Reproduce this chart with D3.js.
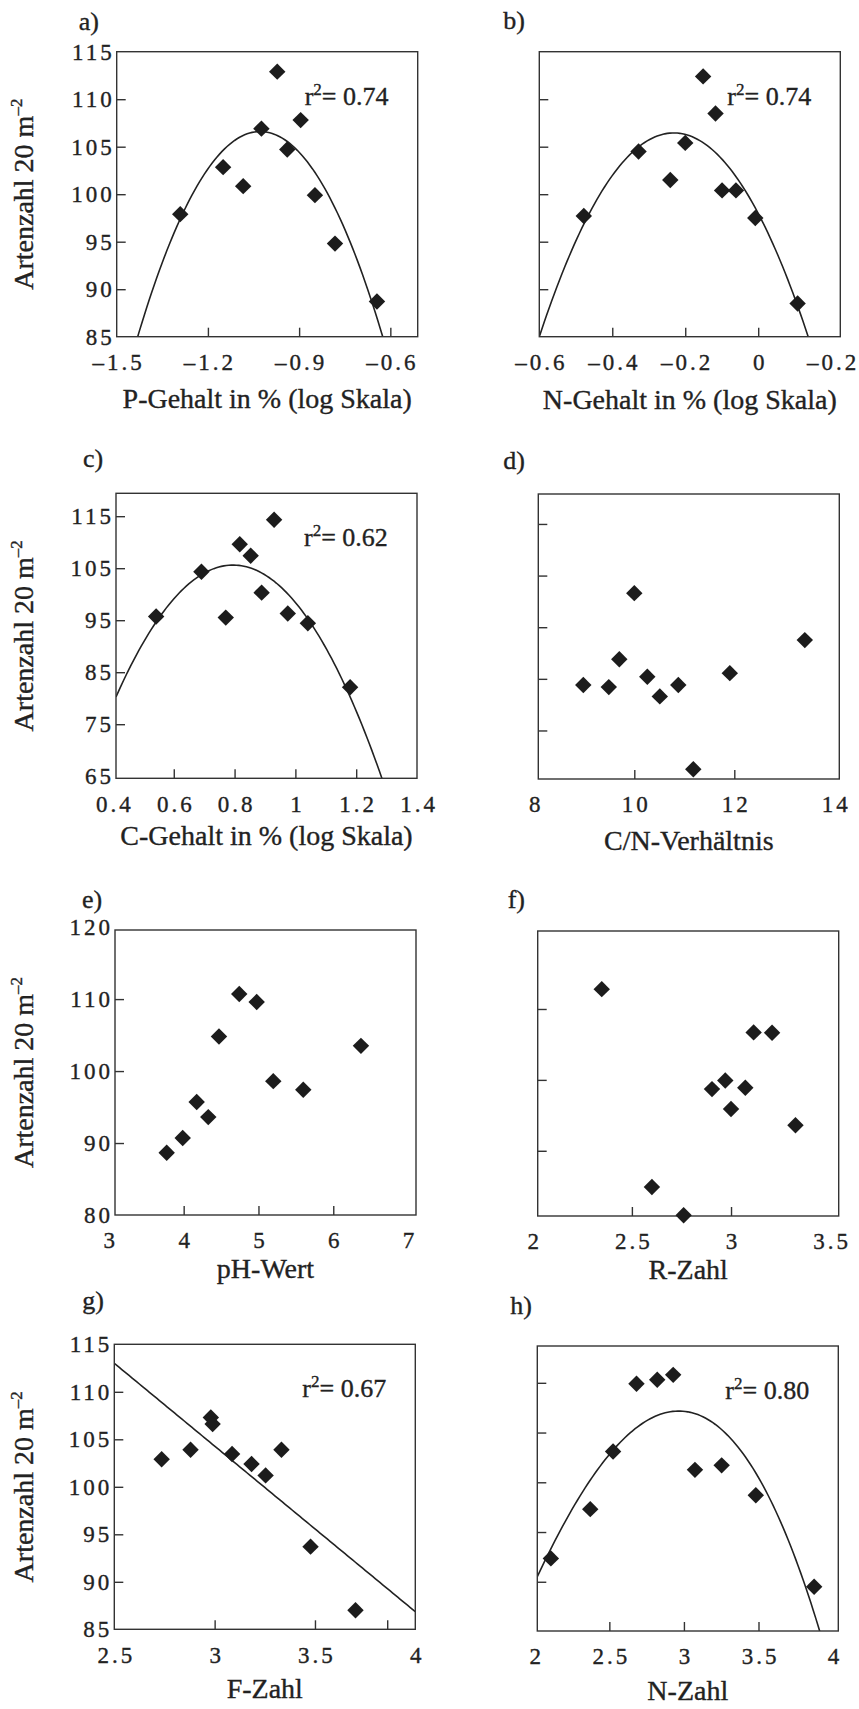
<!DOCTYPE html>
<html>
<head>
<meta charset="utf-8">
<script src="https://d3js.org/d3.v7.min.js"></script>
<style>
  body { margin: 0; background: #fff; }
  svg { display: block; }
  svg text { font-family: "Liberation Serif", "Times New Roman", serif; fill: #222; stroke: #222; stroke-width: 0.35px; }
  .frame { fill: none; stroke: #333; stroke-width: 1.4px; }
  .tick line { stroke: #333; stroke-width: 1.4px; }
  .tick text { font-size: 23px; letter-spacing: 3px; }
  .fit { fill: none; stroke: #222; stroke-width: 1.6px; }
  .pt { fill: #1c1c1c; }
  .title { font-size: 28px; }
  .plabel { font-size: 26px; }
  .r2 { font-size: 26px; }
</style>
</head>
<body>
<script>
// ---- data ----
// a) P-Gehalt
var aX = [-1.291, -1.150, -1.084, -1.024, -0.972, -0.939, -0.895, -0.848, -0.782, -0.644];
var aY = [97.9, 102.85, 100.85, 106.9, 112.9, 104.7, 107.8, 99.9, 94.8, 88.7];
var aFit = [-1.028, 106.6, 0, -133];          // centre, then coefficients in (x - centre)
// b) N-Gehalt
var bX = [-0.478, -0.328, -0.241, -0.200, -0.151, -0.117, -0.099, -0.061, -0.008, 0.108];
var bY = [97.7, 104.5, 101.5, 105.4, 112.4, 108.5, 100.4, 100.4, 97.5, 88.5];
var bFit = [-0.2315, 106.45, 0, -158];
// c) C-Gehalt
var cX = [0.542, 0.691, 0.771, 0.817, 0.853, 0.889, 0.930, 0.975, 1.041, 1.180];
var cY = [95.7, 104.3, 95.5, 109.6, 107.4, 100.3, 114.3, 96.3, 94.4, 82.1];
var cFit = [0.795, 105.6, 0, -171];
// d) C/N
var dX = [8.98, 9.49, 9.70, 10.0, 10.26, 10.51, 10.88, 11.18, 11.91, 13.41];
var dY = [78.8, 78.4, 83.8, 96.6, 80.4, 76.6, 78.8, 62.5, 81.1, 87.5];
// e) pH
var eX = [3.773, 3.987, 4.174, 4.329, 4.472, 4.743, 4.976, 5.198, 5.599, 6.370];
var eY = [88.65, 90.7, 95.7, 93.6, 104.8, 110.7, 109.6, 98.6, 97.4, 103.5];
// f) R-Zahl
var fX = [2.348, 2.601, 2.761, 2.904, 2.971, 3.000, 3.072, 3.114, 3.207, 3.325];
var fY = [112.8, 84.9, 80.9, 98.7, 99.9, 95.9, 98.9, 106.7, 106.65, 93.6];
// g) F-Zahl
var gX = [2.736, 2.880, 2.981, 2.990, 3.087, 3.184, 3.254, 3.333, 3.478, 3.702];
var gY = [102.9, 103.9, 107.3, 106.6, 103.45, 102.4, 101.2, 103.9, 93.7, 87.0];
var gFit = [2.5, 113, -17.43];
// h) N-Zahl
var hX = [2.108, 2.372, 2.525, 2.682, 2.821, 2.928, 3.074, 3.253, 3.482, 3.873];
var hY = [92.35, 97.3, 103.1, 109.9, 110.3, 110.8, 101.25, 101.7, 98.7, 89.5];
var hFit = [2.966, 107.16, 0, -21.66, -3.335];

var r2Texts = {a: "0.74", b: "0.74", c: "0.62", g: "0.67", h: "0.80"};

// axis domains
var aXDom = [-1.5, -0.51], aYDom = [85, 115];
var bXDom = [-0.6, 0.225], bYDom = [85, 115];
var cXDom = [0.41, 1.40],  cYDom = [64.6, 119.4];
var dXDom = [8.08, 14.1],  dYDom = [60.6, 115.8];
var eXDom = [3.082, 7.106], eYDom = [80, 119.6];
var fXDom = [2.025, 3.543], fYDom = [80.8, 121];
var gXDom = [2.5, 4],      gYDom = [85, 115];
var hXDom = [2.017, 4.035], hYDom = [85.05, 113.7];

// tick marks (inside) and tick labels
var aXTicks = [-1.2, -0.9, -0.6], aXLabVals = [-1.5, -1.2, -0.9, -0.6], aXLabels = ["–1.5", "–1.2", "–0.9", "–0.6"];
var bXTicks = [-0.4, -0.2, 0],    bXLabVals = [-0.6, -0.4, -0.2, 0, 0.2], bXLabels = ["–0.6", "–0.4", "–0.2", "0", "–0.2"];
var cXTicks = [0.6, 0.8, 1, 1.2], cXLabVals = [0.4, 0.6, 0.8, 1, 1.2, 1.4], cXLabels = ["0.4", "0.6", "0.8", "1", "1.2", "1.4"];
var dXTicks = [10, 12],           dXLabVals = [8, 10, 12, 14], dXLabels = ["8", "10", "12", "14"];
var eXTicks = [4, 5, 6],          eXLabVals = [3, 4, 5, 6, 7], eXLabels = ["3", "4", "5", "6", "7"];
var fXTicks = [2.5, 3],           fXLabVals = [2, 2.5, 3, 3.5], fXLabels = ["2", "2.5", "3", "3.5"];
var gXTicks = [3, 3.5, 3.86],     gXLabVals = [2.5, 3, 3.5, 4], gXLabels = ["2.5", "3", "3.5", "4"];
var hXTicks = [2.5, 3, 3.5],      hXLabVals = [2, 2.5, 3, 3.5, 4], hXLabels = ["2", "2.5", "3", "3.5", "4"];

var aYTicks = [90, 95, 100, 105, 110], aYLabVals = [85, 90, 95, 100, 105, 110, 115];
var bYTicks = [90, 95, 100, 105, 110];
var cYTicks = [75, 85, 95, 105, 115], cYLabVals = [65, 75, 85, 95, 105, 115];
var dYTicks = [70, 80, 90, 100, 110];
var eYTicks = [90, 100, 110],         eYLabVals = [80, 90, 100, 110, 120];
var fYTicks = [90, 100, 110];
var gYTicks = [90, 95, 100, 105, 110], gYLabVals = [85, 90, 95, 100, 105, 110, 115];
var hYTicks = [90, 95, 100, 105, 110];

var xTitles = {
  a: "P-Gehalt in % (log Skala)", b: "N-Gehalt in % (log Skala)",
  c: "C-Gehalt in % (log Skala)", d: "C/N-Verhältnis",
  e: "pH-Wert", f: "R-Zahl", g: "F-Zahl", h: "N-Zahl"
};

// ---- layout ----
var W = 301, H = 285;
var layout = {
  a: {left: 116.7, top: 51.7,  labX: -38, labY: -22, xt: 71},
  b: {left: 539.3, top: 51.7,  labX: -36, labY: -23, xt: 72},
  c: {left: 116,   top: 493.3, labX: -33, labY: -26, xt: 67},
  d: {left: 538.3, top: 494,   labX: -35, labY: -25, xt: 71},
  e: {left: 115,   top: 930,   labX: -33, labY: -22, xt: 63},
  f: {left: 537.7, top: 931,   labX: -30, labY: -23, xt: 63},
  g: {left: 114.3, top: 1344.3, labX: -32, labY: -35, xt: 69},
  h: {left: 537.3, top: 1346,  labX: -27, labY: -32, xt: 69}
};

var panels = [
  {id: "a", xs: aX, ys: aY, fit: aFit, xDom: aXDom, yDom: aYDom, xTicks: aXTicks, xLabVals: aXLabVals, xLabels: aXLabels, yTicks: aYTicks, yLabVals: aYLabVals},
  {id: "b", xs: bX, ys: bY, fit: bFit, xDom: bXDom, yDom: bYDom, xTicks: bXTicks, xLabVals: bXLabVals, xLabels: bXLabels, yTicks: bYTicks},
  {id: "c", xs: cX, ys: cY, fit: cFit, xDom: cXDom, yDom: cYDom, xTicks: cXTicks, xLabVals: cXLabVals, xLabels: cXLabels, yTicks: cYTicks, yLabVals: cYLabVals},
  {id: "d", xs: dX, ys: dY, xDom: dXDom, yDom: dYDom, xTicks: dXTicks, xLabVals: dXLabVals, xLabels: dXLabels, yTicks: dYTicks},
  {id: "e", xs: eX, ys: eY, xDom: eXDom, yDom: eYDom, xTicks: eXTicks, xLabVals: eXLabVals, xLabels: eXLabels, yTicks: eYTicks, yLabVals: eYLabVals},
  {id: "f", xs: fX, ys: fY, xDom: fXDom, yDom: fYDom, xTicks: fXTicks, xLabVals: fXLabVals, xLabels: fXLabels, yTicks: fYTicks},
  {id: "g", xs: gX, ys: gY, fit: gFit, xDom: gXDom, yDom: gYDom, xTicks: gXTicks, xLabVals: gXLabVals, xLabels: gXLabels, yTicks: gYTicks, yLabVals: gYLabVals},
  {id: "h", xs: hX, ys: hY, fit: hFit, xDom: hXDom, yDom: hYDom, xTicks: hXTicks, xLabVals: hXLabVals, xLabels: hXLabels, yTicks: hYTicks}
];

var svg = d3.select("body").append("svg")
    .attr("width", 859)
    .attr("height", 1709);

// polynomial in (x - centre)
function evalFit(fit, v) {
    var t = v - fit[0], s = 0;
    for (var k = 1; k < fit.length; k++) s += fit[k] * Math.pow(t, k - 1);
    return s;
}

panels.forEach(function(p) {
    var L = layout[p.id];
    var g = svg.append("g").attr("transform", "translate(" + L.left + "," + L.top + ")");
    var x = d3.scaleLinear().domain(p.xDom).range([0, W]);
    var y = d3.scaleLinear().domain(p.yDom).range([H, 0]);

    g.append("clipPath").attr("id", "clip-" + p.id)
      .append("rect").attr("width", W).attr("height", H);

    // tick marks, pointing inwards
    g.append("g")
        .attr("transform", "translate(0," + H + ")")
        .call(d3.axisBottom(x).tickValues(p.xTicks).tickSizeInner(-9).tickSizeOuter(0).tickFormat(""))
        .call(function(a) { a.select(".domain").remove(); a.selectAll("text").remove(); });
    g.append("g")
        .call(d3.axisLeft(y).tickValues(p.yTicks).tickSizeInner(-9).tickSizeOuter(0).tickFormat(""))
        .call(function(a) { a.select(".domain").remove(); a.selectAll("text").remove(); });

    // tick labels
    g.append("g")
        .attr("transform", "translate(0," + H + ")")
        .call(d3.axisBottom(x).tickValues(p.xLabVals).tickSize(0).tickPadding(17)
            .tickFormat(function(d) { return p.xLabels[p.xLabVals.indexOf(d)]; }))
        .call(function(a) { a.select(".domain").remove(); })
        .selectAll("text").attr("dx", "1.5");
    if (p.yLabVals) {
        g.append("g")
            .call(d3.axisLeft(y).tickValues(p.yLabVals).tickSize(0).tickPadding(2))
            .call(function(a) { a.select(".domain").remove(); });
    }

    // fitted curve
    if (p.fit) {
        var n = 120;
        var curve = d3.range(n + 1).map(function(i) {
            var v = p.xDom[0] + (p.xDom[1] - p.xDom[0]) * i / n;
            return [v, evalFit(p.fit, v)];
        });
        g.append("path")
            .datum(curve)
            .attr("class", "fit")
            .attr("clip-path", "url(#clip-" + p.id + ")")
            .attr("d", d3.line()
                .x(function(d) { return x(d[0]); })
                .y(function(d) { return y(d[1]); }));
    }

    g.append("rect").attr("class", "frame").attr("width", W).attr("height", H);

    // data points (diamonds)
    g.selectAll(".pt")
        .data(d3.zip(p.xs, p.ys))
        .enter().append("path")
        .attr("class", "pt")
        .attr("d", d3.symbol().type(d3.symbolSquare).size(135))
        .attr("transform", function(d) { return "translate(" + x(d[0]) + "," + y(d[1]) + ") rotate(45)"; });

    // panel letter
    g.append("text").attr("class", "plabel")
        .attr("x", L.labX).attr("y", L.labY)
        .text(p.id + ")");

    // r^2
    if (r2Texts[p.id]) {
        var t = g.append("text").attr("class", "r2").attr("x", 188).attr("y", 53);
        t.append("tspan").text("r");
        t.append("tspan").attr("dy", -10).style("font-size", "17px").text("2");
        t.append("tspan").attr("dy", 10).text("= " + r2Texts[p.id]);
    }

    // x title
    g.append("text").attr("class", "title")
        .attr("x", W / 2).attr("y", H + L.xt)
        .attr("text-anchor", "middle")
        .text(xTitles[p.id]);

    // y title, left column only
    if (p.yLabVals) {
        var yt = svg.append("text").attr("class", "title")
            .attr("text-anchor", "middle")
            .attr("transform", "translate(33," + (L.top + H / 2) + ") rotate(-90)");
        yt.append("tspan").text("Artenzahl 20 m");
        yt.append("tspan").attr("dy", -11).style("font-size", "17px").text("–2");
    }
});
</script>
</body>
</html>
